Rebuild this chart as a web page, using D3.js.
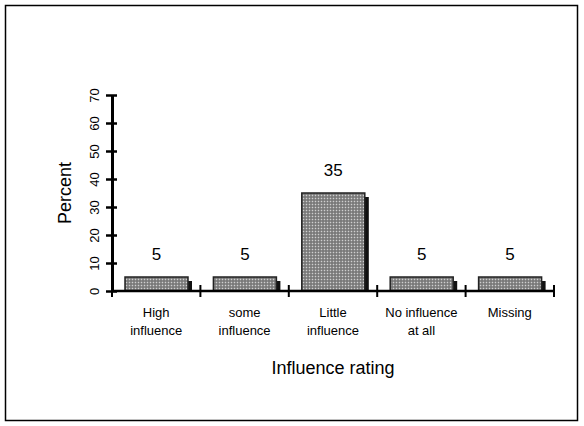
<!DOCTYPE html>
<html><head><meta charset="utf-8">
<script src="https://cdn.jsdelivr.net/npm/d3@7"></script>
<style>body{margin:0;background:#fff}</style>
</head><body>
<svg id="chart" width="584" height="426"></svg>
<script>
const categories = [["High", "influence"], ["some", "influence"], ["Little", "influence"], ["No influence", "at all"], ["Missing"]];
const values = [5, 5, 35, 5, 5];
const yTicks = [0, 10, 20, 30, 40, 50, 60, 70];

const svg = d3.select('#chart');
const font = 'Arial, "Liberation Sans", sans-serif';

// outer frame
svg.append('rect').attr('x', 5.5).attr('y', 5.5).attr('width', 572).attr('height', 415)
  .attr('fill', 'none').attr('stroke', '#000').attr('stroke-width', 1.5);

// dotted texture for the bars
const pat = svg.append('defs').append('pattern').attr('id', 'dots')
  .attr('width', 3).attr('height', 3).attr('patternUnits', 'userSpaceOnUse');
pat.append('rect').attr('width', 3).attr('height', 3).attr('fill', '#8c8c8c');
pat.append('rect').attr('width', 1).attr('height', 1).attr('fill', '#cfcfcf');
pat.append('rect').attr('x', 1.5).attr('y', 1.5).attr('width', 1).attr('height', 1).attr('fill', '#444');

const x = d3.scaleBand().domain(d3.range(values.length)).range([112, 554]);
const y = d3.scaleLinear().domain([0, 70]).range([291, 95]);

// bars: black shadow then gray face
const bw = 63;
const g = svg.append('g');
g.selectAll('.shadow').data(values).join('rect')
  .attr('x', (d, i) => x(i) + 17).attr('y', d => y(d) + 4)
  .attr('width', bw).attr('height', d => y(0) - y(d) - 4)
  .attr('fill', '#111');
g.selectAll('.bar').data(values).join('rect')
  .attr('x', (d, i) => x(i) + 13).attr('y', d => y(d))
  .attr('width', bw).attr('height', d => y(0) - y(d))
  .attr('fill', 'url(#dots)').attr('stroke', '#222').attr('stroke-width', 1.5);

g.selectAll('.val').data(values).join('text')
  .attr('x', (d, i) => x(i) + 13 + bw / 2).attr('y', d => y(d) - 17)
  .attr('text-anchor', 'middle').attr('font-family', font).attr('font-size', 17)
  .text(d => d);

// y axis
const yAxis = svg.append('g').attr('transform', 'translate(112,0)')
  .call(d3.axisLeft(y).tickValues(yTicks).tickSize(6).tickSizeOuter(0));
yAxis.select('.domain').attr('stroke-width', 3);
yAxis.selectAll('.tick line').attr('stroke-width', 2.5).attr('x2', 5).attr('x1', -6);
yAxis.selectAll('.tick text').remove();
yAxis.selectAll('.tick').append('text')
  .attr('transform', 'translate(-18,0) rotate(-90)')
  .attr('text-anchor', 'middle').attr('dy', '0.35em')
  .attr('font-family', font).attr('font-size', 13).attr('fill', '#000')
  .text(d => d);

// x axis
svg.append('line').attr('x1', 112).attr('x2', 554).attr('y1', 291).attr('y2', 291)
  .attr('stroke', '#000').attr('stroke-width', 2.5);
svg.selectAll('.xt').data(d3.range(values.length + 1)).join('line')
  .attr('x1', i => 112 + i * x.step()).attr('x2', i => 112 + i * x.step())
  .attr('y1', 285).attr('y2', 297).attr('stroke', '#000').attr('stroke-width', 2);

const lab = svg.selectAll('.xl').data(categories).join('text')
  .attr('x', (d, i) => x(i) + x.bandwidth() / 2).attr('y', 317)
  .attr('text-anchor', 'middle').attr('font-family', font).attr('font-size', 13);
lab.selectAll('tspan').data(d => d).join('tspan')
  .attr('x', function() { return this.parentNode.getAttribute('x'); })
  .attr('dy', (d, i) => i ? 18 : 0).text(d => d);

svg.append('text').attr('x', 333).attr('y', 374).attr('text-anchor', 'middle')
  .attr('font-family', font).attr('font-size', 18).text('Influence rating');
svg.append('text').attr('transform', 'translate(71,193) rotate(-90)').attr('text-anchor', 'middle')
  .attr('font-family', font).attr('font-size', 18).text('Percent');
</script>
</body></html>
